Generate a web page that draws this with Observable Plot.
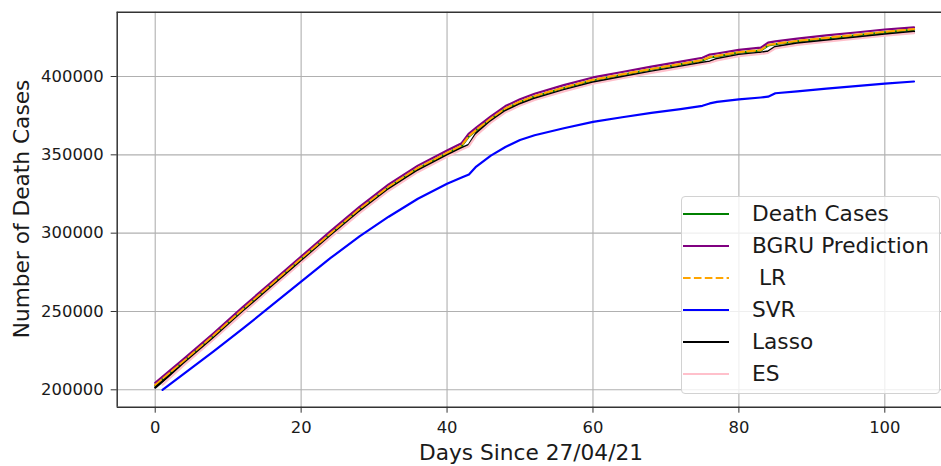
<!DOCTYPE html>
<html>
<head>
<meta charset="utf-8">
<script src="https://cdn.jsdelivr.net/npm/d3@7"></script>
<script src="https://cdn.jsdelivr.net/npm/@observablehq/plot@0.6"></script>
<style>
  html, body { margin: 0; padding: 0; background: #fff; }
  #wrap { position: relative; width: 941px; height: 466px; overflow: hidden; font-family: "DejaVu Sans", sans-serif; color: #1a1a1a; }
  #wrap svg { position: absolute; left: 0; top: 0; }
  .xlabel { position: absolute; left: 531px; top: 441.6px; transform: translateX(-50%); font-size: 21.7px; line-height: 1; white-space: nowrap; }
  .ylabel { position: absolute; left: 22px; top: 209px; transform: translate(-50%, -50%) rotate(-90deg); font-size: 21.7px; line-height: 1; white-space: nowrap; }
  .legend { position: absolute; left: 681px; top: 196px; width: 259px; height: 198px; box-sizing: border-box; border: 1px solid #d2d2d2; border-radius: 4px; background: rgba(255,255,255,0.8); }
  .legend .row { position: absolute; left: 0; height: 32px; width: 100%; }
  .legend .row svg { position: absolute; left: 7px; top: 0; }
  .legend .row span { position: absolute; left: 70px; top: 0; font-size: 21.7px; line-height: 32px; white-space: pre; }
</style>
</head>
<body>
<div id="wrap"></div>
<script>
// ---- Data ----
const days = [0,4,8,12,16,20,24,28,32,36,40,42,43,44,46,48,50,52,56,60,64,68,72,75,76,77,80,83,84,85,88,92,96,100,104];
const laggedDays = [1,4,8,12,16,20,24,28,32,36,40,42,43,44,46,48,50,52,56,60,64,68,72,75,76,77,80,83,84,85,88,92,96,100,104];

const deathCases = [202700,218300,234300,251000,267200,283300,299300,315000,329300,341300,351000,355600,361800,365600,372800,379300,383700,387200,392700,397600,401100,404500,407700,410200,412200,412900,415200,416600,419800,420600,422400,424400,426300,428200,429900];
const bgru = [204500,220100,236100,252800,269000,285100,301100,316800,331100,343100,352800,357400,363600,367400,374600,381100,385500,389000,394500,399400,402900,406300,409500,412000,414000,414700,417000,418400,421600,422400,424200,426200,428100,430000,431400];
const lr = [203000,218600,234600,251300,267500,283600,299600,315300,329600,341600,351300,355900,362100,365900,373100,379600,384000,387500,393000,397900,401400,404800,408000,410500,412500,413200,415500,416900,420100,420900,422700,424700,426600,428500,430200];
const svr = [200000,210500,224500,239000,254000,269000,284000,298000,310500,322000,331500,335500,337500,342500,349500,355000,359500,362500,367000,371000,374000,376800,379200,381300,382800,383800,385400,386600,387100,389300,390500,392300,393900,395500,396800];
const lasso = [201400,217000,233000,249700,265900,282000,298000,313700,328000,340000,349700,354300,356500,363900,371500,378000,382400,385900,391400,396300,399800,403200,406400,408900,409600,411300,413900,415300,416000,419000,421100,423100,425000,426900,428600];
const es = [203300,216100,232100,248800,265000,281100,297100,312800,327100,339100,348800,353400,355500,362400,370600,377100,381500,385000,390500,395400,398900,402300,405500,408000,408800,410300,413000,414400,415100,418000,420200,422200,424100,426000,427700];

const xTicks = [0,20,40,60,80,100];
const yTicks = [200000,250000,300000,350000,400000];
const xDomain = [-5.21, 107.77];
const yDomain = [188900, 441050];

const seriesNames = ["Death Cases","BGRU Prediction"," LR","SVR","Lasso","ES"];
const seriesColors = ["#008000","#800080","#ffa500","#0000ff","#000000","#ffc0cb"];
const seriesDash = [null, null, "7.6,3.3", null, null, null];

// ---- Build tables ----
const rows = (xs, ys) => xs.map((d, i) => ({day: d, value: ys[i]}));
const tables = [
  rows(days, deathCases),
  rows(days, bgru),
  rows(days, lr),
  rows(laggedDays, svr),
  rows(days, lasso),
  rows(laggedDays, es)
];

const gridStyle = {stroke: "#b0b0b0", strokeOpacity: 1, strokeWidth: 1.1};
const lineMarks = tables.map((t, i) => Plot.line(t, {
  x: "day", y: "value",
  stroke: seriesColors[i], strokeWidth: 2.2,
  strokeDasharray: seriesDash[i] || undefined,
  strokeLinejoin: "round"
}));

const chart = Plot.plot({
  width: 941, height: 466,
  marginLeft: 116.7, marginRight: 0, marginTop: 11.7, marginBottom: 59.3,
  x: {domain: xDomain},
  y: {domain: yDomain},
  style: {fontFamily: "DejaVu Sans", fontSize: "16.4px", color: "#1a1a1a", background: "transparent"},
  marks: [
    Plot.gridX(xTicks, gridStyle),
    Plot.gridY(yTicks, gridStyle),
    ...lineMarks,
    Plot.ruleX([xDomain[0]], {stroke: "#333", strokeWidth: 1.5}),
    Plot.ruleY([yDomain[0]], {stroke: "#333", strokeWidth: 1.5}),
    Plot.ruleY([yDomain[1]], {stroke: "#333", strokeWidth: 1.5}),
    Plot.axisX(xTicks, {tickSize: 6, tickPadding: 8, label: null, fontSize: 16.4, stroke: "#333"}),
    Plot.axisY(yTicks, {tickSize: 6, tickPadding: 7.5, label: null, fontSize: 16.4, tickFormat: d => String(d), stroke: "#333"})
  ]
});

const wrap = document.getElementById("wrap");
wrap.appendChild(chart);

// Axis labels
const xl = document.createElement("div");
xl.className = "xlabel";
xl.textContent = "Days Since 27/04/21";
wrap.appendChild(xl);
const yl = document.createElement("div");
yl.className = "ylabel";
yl.textContent = "Number of Death Cases";
wrap.appendChild(yl);

// Legend
const legend = document.createElement("div");
legend.className = "legend";
seriesNames.forEach((name, i) => {
  const row = document.createElement("div");
  row.className = "row";
  row.style.top = (1 + i * 32) + "px";
  const ns = "http://www.w3.org/2000/svg";
  const s = document.createElementNS(ns, "svg");
  s.setAttribute("width", "48"); s.setAttribute("height", "32");
  const l = document.createElementNS(ns, "line");
  l.setAttribute("x1", "1"); l.setAttribute("x2", "47");
  l.setAttribute("y1", "16"); l.setAttribute("y2", "16");
  l.setAttribute("stroke", seriesColors[i]);
  l.setAttribute("stroke-width", "2.2");
  if (seriesDash[i]) l.setAttribute("stroke-dasharray", seriesDash[i]);
  s.appendChild(l);
  row.appendChild(s);
  const t = document.createElement("span");
  t.textContent = name;
  row.appendChild(t);
  legend.appendChild(row);
});
wrap.appendChild(legend);
</script>
</body>
</html>
